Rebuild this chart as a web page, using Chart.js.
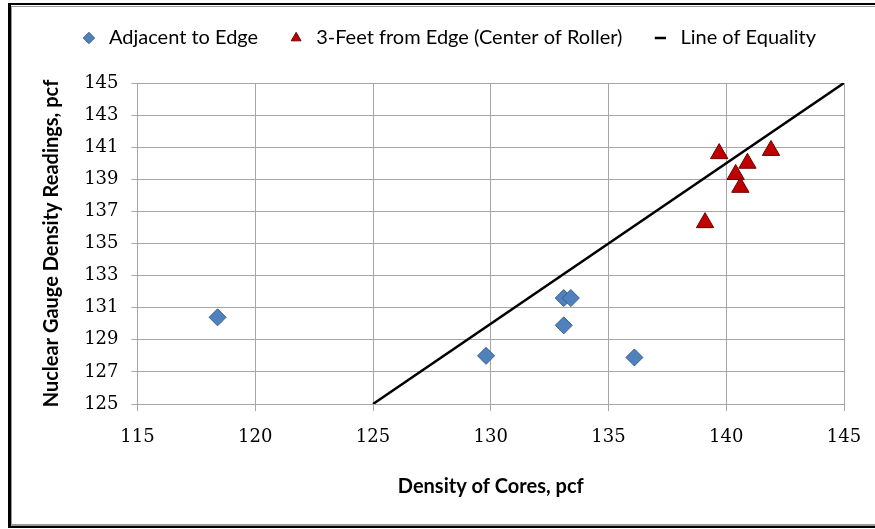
<!DOCTYPE html>
<html>
<head>
<meta charset="utf-8">
<script src="https://cdn.jsdelivr.net/npm/chart.js@4.4.1/dist/chart.umd.min.js"></script>
<style>
  html, body { margin: 0; padding: 0; background: #fff; }
  #wrap { position: relative; width: 875px; height: 529px; overflow: hidden; }
  #grafico { position: absolute; left: 0; top: 0; }
  .moldura1 { position: absolute; left: 8px; top: 3px; right: -10px; bottom: 1px;
              border-left: 3px solid #000; border-top: 2px solid #000; border-bottom: 2px solid #000; }
  .moldura2 { position: absolute; left: 11px; top: 6px; right: -10px; bottom: 3px;
              border-left: 1px solid #999; border-top: 1px solid #999; border-bottom: 2px solid #999; }
</style>
</head>
<body>
<div id="wrap">
  <div class="moldura1"></div>
  <div class="moldura2"></div>
  <canvas id="grafico" width="875" height="529"></canvas>
</div>
<script>
// ===================== DADOS =====================
const adjacenteX = [118.4, 129.8, 133.1, 133.4, 133.1, 136.1];
const adjacenteY = [130.4, 128.0, 131.6, 131.6, 129.9, 127.9];

const rolo3pesX = [139.7, 141.9, 140.9, 140.4, 140.6, 139.1];
const rolo3pesY = [140.6, 140.8, 140.0, 139.3, 138.5, 136.3];

const igualdadeX = [125, 145];
const igualdadeY = [125, 145];

const ticksX = [115, 120, 125, 130, 135, 140, 145];
const ticksY = [125, 127, 129, 131, 133, 135, 137, 139, 141, 143, 145];

// ===================== UTILITÁRIOS =====================
function pares(xs, ys) {
    return xs.map((x, i) => ({ x: x, y: ys[i] }));
}

const corGrade = '#a6a6a6';
const fonteEixo = { family: '"DejaVu Serif", serif', size: 18 };
const fonteTitulo = { family: 'Lato, "Liberation Sans", sans-serif', size: 20, weight: 'bold' };

// espaço extra entre a legenda e a área do gráfico
const espacoLegenda = {
    id: 'espacoLegenda',
    beforeLayout(chart) {
        const lg = chart.legend;
        if (lg && !lg._ajustado) {
            const fitOriginal = lg.fit;
            lg.fit = function () {
                fitOriginal.call(this);
                this.height += 25;
            };
            lg._ajustado = true;
        }
    }
};

// ===================== GRÁFICO =====================
const ctx = document.getElementById('grafico').getContext('2d');

new Chart(ctx, {
    type: 'scatter',
    plugins: [espacoLegenda],
    data: {
        datasets: [
            {
                label: 'Adjacent to Edge',
                data: pares(adjacenteX, adjacenteY),
                pointStyle: 'rectRot',
                pointRadius: 8.5,
                backgroundColor: '#4f81bd',
                borderColor: '#385d8a',
                borderWidth: 1
            },
            {
                label: '3-Feet from Edge (Center of Roller)',
                data: pares(rolo3pesX, rolo3pesY),
                pointStyle: 'triangle',
                pointRadius: 10,
                backgroundColor: '#c00000',
                borderColor: '#6b0000',
                borderWidth: 1
            },
            {
                label: 'Line of Equality',
                type: 'line',
                data: pares(igualdadeX, igualdadeY),
                pointStyle: 'line',
                pointRadius: 0,
                borderColor: '#000',
                backgroundColor: '#000',
                borderWidth: 2.5,
                showLine: true,
                fill: false
            }
        ]
    },
    options: {
        responsive: false,
        animation: false,
        layout: { padding: { left: 0, right: 31, top: 0, bottom: 0 } },
        plugins: {
            tooltip: { enabled: false },
            legend: {
                position: 'top',
                align: 'end',
                labels: {
                    usePointStyle: true,
                    boxHeight: 8,
                    padding: 28,
                    color: '#000',
                    font: { family: 'Lato, "Liberation Sans", sans-serif', size: 20 }
                }
            }
        },
        scales: {
            x: {
                type: 'linear',
                min: 115,
                max: 145,
                afterBuildTicks: s => { s.ticks = ticksX.map(v => ({ value: v })); },
                afterFit: s => { s.height = 125; s.paddingRight = 31; },
                grid: { color: corGrade, lineWidth: 1, tickLength: 7 },
                border: { color: corGrade },
                ticks: { color: '#000', font: fonteEixo, padding: 16 },
                title: {
                    display: true,
                    text: 'Density of Cores, pcf',
                    color: '#000',
                    font: fonteTitulo,
                    padding: { top: 0, bottom: 30 }
                }
            },
            y: {
                type: 'linear',
                min: 125,
                max: 145,
                afterBuildTicks: s => { s.ticks = ticksY.map(v => ({ value: v })); },
                afterFit: s => { s.width = 137.5; },
                grid: { color: corGrade, lineWidth: 1, tickLength: 6 },
                border: { color: corGrade },
                ticks: { color: '#000', font: fonteEixo, padding: 13 },
                title: {
                    display: true,
                    text: 'Nuclear Gauge Density Readings, pcf',
                    color: '#000',
                    font: fonteTitulo,
                    padding: { top: 40, bottom: 0 }
                }
            }
        }
    }
});
</script>
</body>
</html>
